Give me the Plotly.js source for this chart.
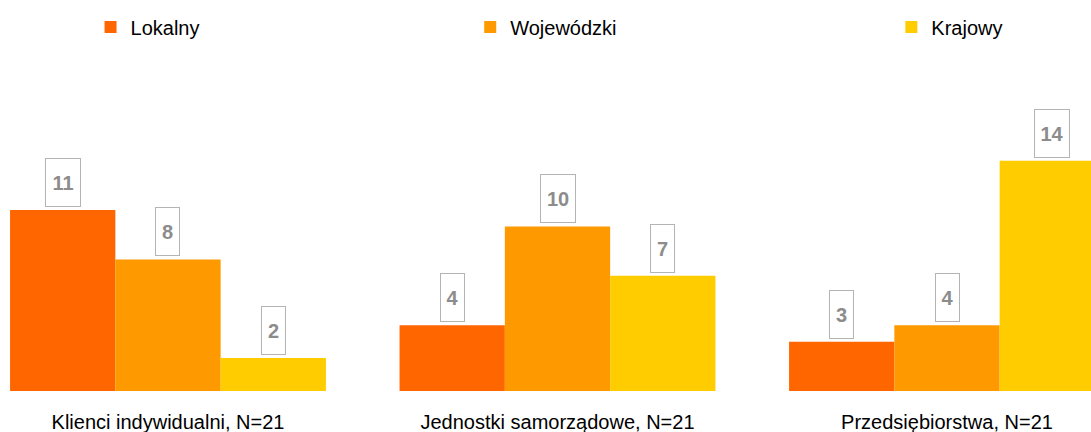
<!DOCTYPE html>
<html>
<head>
<meta charset="utf-8">
<script src="https://cdn.plot.ly/plotly-3.0.1.min.js"></script>
<style>
html,body{margin:0;padding:0;background:#fff;}
#chart{width:1091px;height:432px;}
</style>
</head>
<body>
<div id="chart"></div>
<script>
// Data
var categories = ["Klienci indywidualni, N=21", "Jednostki samorządowe, N=21", "Przedsiębiorstwa, N=21"];
var seriesNames = ["Lokalny", "Wojewódzki", "Krajowy"];
var lokalny = [11, 4, 3];
var wojewodzki = [8, 10, 4];
var krajowy = [2, 7, 14];

var seriesValues = [lokalny, wojewodzki, krajowy];
var colors = ["#FF6600", "#FF9900", "#FFCC00"];
var legendIds = ["legend", "legend2", "legend3"];
var legendX = [0.083, 0.431, 0.817];

var FONT = "Arial, 'Liberation Sans', sans-serif";
var BARGAP = 0.189;
var barW = (1 - BARGAP) / seriesValues.length;

var traces = seriesValues.map(function (vals, j) {
  return {
    type: "bar",
    name: seriesNames[j],
    x: categories,
    y: vals,
    marker: {color: colors[j], line: {width: 0}},
    legend: legendIds[j],
    hoverinfo: "none"
  };
});

var annotations = [];
seriesValues.forEach(function (vals, j) {
  vals.forEach(function (v, i) {
    var label = String(v);
    annotations.push({
      xref: "x", yref: "y",
      x: i + (j - (seriesValues.length - 1) / 2) * barW,
      y: v,
      text: "<b>" + label + "</b>",
      showarrow: false,
      xanchor: "center", yanchor: "bottom",
      yshift: 3,
      font: {family: FONT, size: 20, color: "#8C8C8C"},
      bordercolor: "#B4B4B4",
      borderwidth: 1,
      borderpad: 1,
      bgcolor: "#FFFFFF",
      width: label.length > 1 ? 32 : 21,
      height: 45
    });
  });
});

var layout = {
  width: 1091,
  height: 432,
  margin: {l: 0, r: 0, t: 60, b: 41, pad: 0, autoexpand: false},
  paper_bgcolor: "#FFFFFF",
  plot_bgcolor: "#FFFFFF",
  font: {family: FONT, size: 20, color: "#000000"},
  barmode: "group",
  bargap: BARGAP,
  bargroupgap: 0,
  showlegend: true,
  xaxis: {
    type: "category",
    range: [-0.4313, 2.3697],
    showgrid: false, zeroline: false, showline: false,
    ticks: "",
    ticklabelstandoff: 17,
    automargin: false,
    tickfont: {family: FONT, size: 20, color: "#000000"},
    fixedrange: true
  },
  yaxis: {
    range: [0, 20.12],
    visible: false,
    showgrid: false, zeroline: false,
    automargin: false,
    fixedrange: true
  },
  annotations: annotations
};

legendIds.forEach(function (id, j) {
  layout[id] = {
    x: legendX[j], xanchor: "left",
    y: 1.1, yanchor: "middle",
    orientation: "h",
    bgcolor: "rgba(0,0,0,0)",
    borderwidth: 0,
    font: {family: FONT, size: 20, color: "#000000"},
    itemclick: false, itemdoubleclick: false
  };
});

Plotly.newPlot("chart", traces, layout, {displayModeBar: false, staticPlot: true});
</script>
</body>
</html>
